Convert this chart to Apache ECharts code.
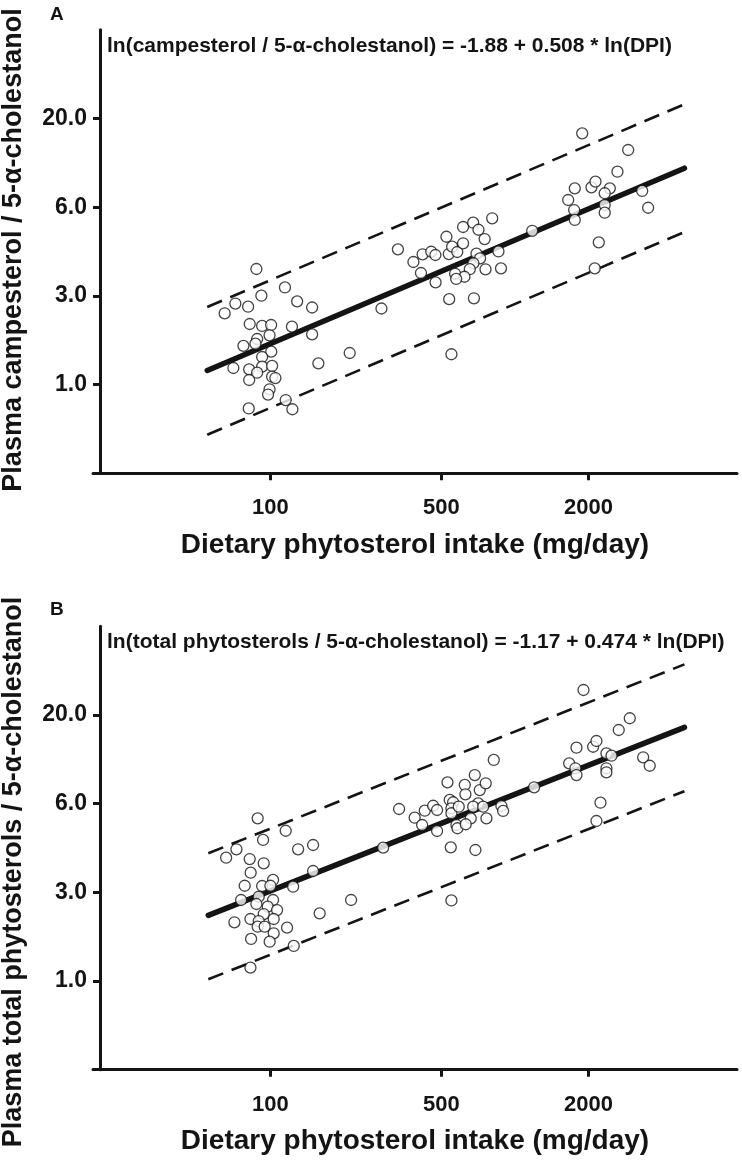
<!DOCTYPE html>
<html><head><meta charset="utf-8">
<script src="https://cdn.jsdelivr.net/npm/echarts@6/dist/echarts.min.js"></script>
<style>html,body{margin:0;padding:0;background:#fff}#c{width:742px;height:1161px}</style>
</head><body><div id="c"></div>
<script>
// ---- tick definitions ----
const xTickDPI = [100, 500, 2000];            // mg/day
const yTickPos = [0, 1, 2, 3];                // ln(ratio) positions of y ticks
const yTickLabels = ['1.0', '3.0', '6.0', '20.0'];

// ---- titles / text ----
const panelLabels = ['A', 'B'];
const equations = [
  'ln(campesterol / 5-\u03b1-cholestanol) = -1.88 + 0.508 * ln(DPI)',
  'ln(total phytosterols / 5-\u03b1-cholestanol) = -1.17 + 0.474 * ln(DPI)'
];
const yTitles = ['Plasma campesterol / 5-\u03b1-cholestanol', 'Plasma total phytosterols / 5-\u03b1-cholestanol'];
const xTitle = 'Dietary phytosterol intake (mg/day)';

// ---- Panel A data: ln(DPI), ln(campesterol / 5-a-cholestanol) ----
const lnDpiA = [4.473,4.742,4.275,4.520,4.174,4.395,4.857,4.998,4.410,4.527,4.612,4.808,4.597,4.998,4.480,4.351,4.464,4.613,4.527,5.057,4.256,4.405,4.527,4.621,4.480,4.405,4.621,4.652,4.597,4.583,4.749,4.812,4.401,5.352,
  5.651,5.806,5.952,6.023,6.039,6.120,6.159,6.161,6.263,6.285,6.317,6.365,6.420,6.420,6.515,6.565,6.623,6.694,6.546,6.580,6.517,6.753,6.483,6.631,6.777,6.345,6.433,6.355,6.289,6.522,7.071,6.310,
  7.542,7.975,7.874,7.472,7.629,7.667,7.802,7.754,7.410,7.466,7.754,7.754,7.472,8.107,8.163,7.698,7.660];
const lnRatioA = [1.303,1.095,0.914,1.002,0.804,0.878,0.939,0.869,0.683,0.661,0.672,0.653,0.556,0.567,0.514,0.437,0.461,0.371,0.311,0.240,0.187,0.172,0.202,0.210,0.134,0.052,0.089,0.074,-0.053,-0.112,-0.174,-0.278,-0.269,0.356,
  0.858,1.525,1.382,1.258,1.469,1.498,1.461,1.153,1.667,1.472,1.555,1.495,1.777,1.593,1.825,1.746,1.641,1.875,1.476,1.424,1.368,1.501,1.301,1.300,1.311,1.250,1.216,1.191,0.963,0.973,1.734,0.342,
  2.833,2.645,2.400,2.213,2.224,2.288,2.213,2.157,2.081,1.968,2.025,1.938,1.856,2.183,1.994,1.604,1.311];
// regression line and prediction band end points (ln units)
const fitLnDpiA = [4.01, 8.505];
const fitA = [0.16, 2.44];
const upperA = [0.875, 3.16];
const lowerA = [-0.565, 1.72];

// ---- Panel B data: ln(DPI), ln(total phytosterols / 5-a-cholestanol) ----
const lnDpiB = [4.485,4.749,4.285,4.188,4.536,4.410,4.542,4.866,5.007,4.419,5.007,4.363,4.527,4.630,4.605,4.819,4.329,4.495,4.473,4.630,4.580,4.668,4.542,4.417,4.266,4.495,4.636,4.485,4.551,4.762,4.636,4.423,4.598,5.069,5.365,4.825,4.417,
  5.667,5.817,5.964,6.034,6.059,6.138,6.175,6.175,6.273,6.294,6.326,6.310,6.310,6.379,6.357,6.367,6.436,6.442,6.530,6.577,6.633,6.562,6.515,6.609,6.492,6.445,6.640,6.781,6.797,6.709,6.304,6.536,7.089,6.310,
  7.554,7.990,7.886,7.488,7.645,7.676,7.770,7.818,7.419,7.478,7.488,7.770,7.770,8.116,8.178,7.714,7.676];
const lnRatioB = [1.834,1.694,1.485,1.390,1.590,1.375,1.327,1.485,1.533,1.221,1.240,1.074,1.071,1.139,1.074,1.063,0.913,0.950,0.868,0.913,0.838,0.800,0.755,0.699,0.662,0.676,0.699,0.612,0.612,0.601,0.538,0.474,0.443,0.763,0.913,0.395,0.150,
  1.503,1.939,1.841,1.759,1.920,1.976,1.928,1.691,2.240,2.041,2.015,1.947,1.891,1.965,1.759,1.722,2.210,2.105,2.322,2.153,2.229,2.003,1.965,1.965,1.834,1.767,1.834,1.973,1.917,2.492,1.507,1.477,2.184,0.908,
  3.281,2.962,2.830,2.630,2.641,2.706,2.567,2.540,2.454,2.398,2.322,2.398,2.353,2.522,2.427,2.010,1.804];
const fitLnDpiB = [4.02, 8.505];
const fitB = [0.74, 2.86];
const upperB = [1.44, 3.57];
const lowerB = [0.02, 2.14];

// ---- axis ranges (ln units) ----
const xMin = 2.934, xMax = 9;
const yMin = -1, yMax = 4;

const FONT = '"Liberation Sans", Arial, Helvetica, sans-serif';
const INK = '#141414';
const xTickLn = xTickDPI.map(v => Math.log(v));

function pairs(xs, ys) { return xs.map((x, i) => [x, ys[i]]); }

const gridTops = [29.8, 626.2];
const gridH = 443.5;

const grids = gridTops.map(t => ({ left: 93, right: 5, top: t, height: gridH, containLabel: false }));

const xAxes = [0, 1].map(i => ({
  type: 'value', gridIndex: i, min: xMin, max: xMax, position: 'bottom',
  axisLine: { show: true, onZero: false, lineStyle: { color: INK, width: 3 } },
  axisTick: { show: true, customValues: xTickLn, length: 7, lineStyle: { color: INK, width: 3 } },
  axisLabel: {
    show: true, customValues: xTickLn, margin: 24,
    formatter: v => String(Math.round(Math.exp(v))),
    fontFamily: FONT, fontSize: 22, fontWeight: 'bold', color: INK
  },
  splitLine: { show: false },
  name: xTitle, nameLocation: 'middle', nameGap: 58,
  nameTextStyle: { fontFamily: FONT, fontSize: 28, fontWeight: 'bold', color: INK }
}));

const yAxes = [0, 1].map(i => ({
  type: 'value', gridIndex: i, min: yMin, max: yMax, offset: -7, position: 'left',
  axisLine: { show: true, onZero: false, lineStyle: { color: INK, width: 3 } },
  axisTick: { show: true, customValues: yTickPos, length: 7, lineStyle: { color: INK, width: 3 } },
  axisLabel: {
    show: true, customValues: yTickPos, margin: 13,
    formatter: v => yTickLabels[yTickPos.indexOf(v)],
    fontFamily: FONT, fontSize: 23, fontWeight: 'bold', color: INK
  },
  splitLine: { show: false }
}));

function panelSeries(idx, lx, ly, fx, fy, up, lo) {
  const line = (ys, style) => ({
    type: 'line', xAxisIndex: idx, yAxisIndex: idx, data: pairs(fx, ys),
    symbol: 'none', silent: true, z: 2, lineStyle: style
  });
  return [
    line(up, { color: INK, width: 2.6, type: [16, 9], cap: 'butt' }),
    line(lo, { color: INK, width: 2.6, type: [16, 9], cap: 'butt' }),
    line(fy, { color: INK, width: 5.5, cap: 'round' }),
    {
      type: 'scatter', xAxisIndex: idx, yAxisIndex: idx, data: pairs(lx, ly),
      symbol: 'circle', symbolSize: 11, z: 3,
      itemStyle: { color: '#ffffff', borderColor: INK, borderWidth: 1.3 }
    }
  ];
}

// rotated y-axis titles (centre points)
const yTitleCentres = [[14, 250], [14, 872]];

const option = {
  animation: false,
  backgroundColor: '#ffffff',
  grid: grids,
  xAxis: xAxes,
  yAxis: yAxes,
  series: [
    ...panelSeries(0, lnDpiA, lnRatioA, fitLnDpiA, fitA, upperA, lowerA),
    ...panelSeries(1, lnDpiB, lnRatioB, fitLnDpiB, fitB, upperB, lowerB)
  ],
  graphic: [
    { type: 'text', left: 50, top: 5, style: { text: panelLabels[0], font: 'bold 19px ' + FONT, fill: INK } },
    { type: 'text', left: 50, top: 600, style: { text: panelLabels[1], font: 'bold 19px ' + FONT, fill: INK } },
    { type: 'text', left: 107, top: 36, style: { text: equations[0], font: 'bold 21px ' + FONT, fill: INK } },
    { type: 'text', left: 107, top: 632, style: { text: equations[1], font: 'bold 21px ' + FONT, fill: INK } },
    ...yTitles.map((t, i) => ({
      type: 'text', x: yTitleCentres[i][0], y: yTitleCentres[i][1], rotation: Math.PI / 2,
      style: { text: t, font: 'bold 27px ' + FONT, fill: INK, align: 'center', verticalAlign: 'middle' }
    }))
  ]
};

const chart = echarts.init(document.getElementById('c'), null, { renderer: 'canvas' });
chart.setOption(option);
</script></body></html>
